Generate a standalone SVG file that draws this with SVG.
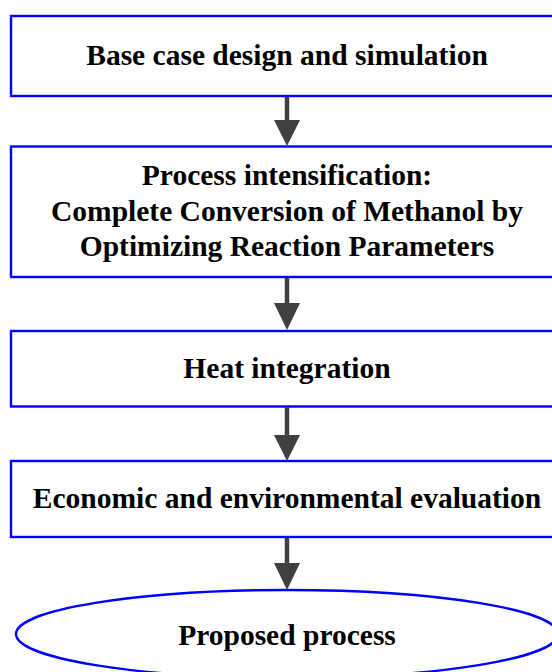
<svg xmlns="http://www.w3.org/2000/svg" width="552" height="672" viewBox="0 0 552 672">
<style>
.box{fill:#fff;stroke:#0000ff;stroke-width:2.4}
.t{font-family:"Liberation Serif","Times New Roman",serif;font-weight:bold;font-size:29.5px;fill:#000;text-anchor:middle}
.c{stroke:#404040;stroke-width:4.5;fill:none}
.h{fill:#404040;stroke:none}
</style>
<rect width="552" height="672" fill="#fff"/>
<g id="n1"><rect class="box" x="11" y="16" width="552" height="80"/><text class="t" x="287" y="65">Base case design and simulation</text></g>
<g id="n2"><rect class="box" x="11" y="146.5" width="552" height="130.5"/><text class="t" x="287" y="185">Process intensification:</text><text class="t" x="287" y="220.7">Complete Conversion of Methanol by</text><text class="t" x="287" y="256">Optimizing Reaction Parameters</text></g>
<g id="n3"><rect class="box" x="11" y="331" width="552" height="75.5"/><text class="t" x="287" y="377.5">Heat integration</text></g>
<g id="n4"><rect class="box" x="11" y="461" width="552" height="76"/><text class="t" x="287" y="508">Economic and environmental evaluation</text></g>
<g id="n5"><ellipse class="box" cx="287" cy="634" rx="271" ry="44"/><text class="t" x="287" y="645">Proposed process</text></g>
<g id="connectors">
<line class="c" x1="287" y1="97" x2="287" y2="122"/><polygon class="h" points="274,120 300,120 287,146"/>
<line class="c" x1="287" y1="278" x2="287" y2="305"/><polygon class="h" points="274,303 300,303 287,330"/>
<line class="c" x1="287" y1="407" x2="287" y2="437"/><polygon class="h" points="274,435 300,435 287,461"/>
<line class="c" x1="287" y1="538" x2="287" y2="565"/><polygon class="h" points="274,563 300,563 287,590"/>
</g>
</svg>
